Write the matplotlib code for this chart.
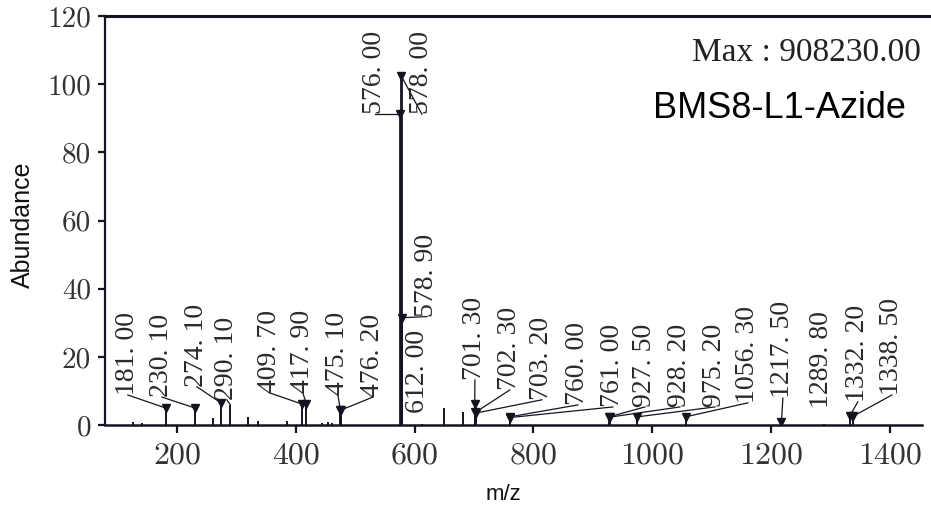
import matplotlib
matplotlib.use("Agg")
import matplotlib.pyplot as plt

# ---------------- data ----------------
peak_labels = ["181. 00", "230. 10", "274. 10", "290. 10", "409. 70", "417. 90",
               "475. 10", "476. 20", "576. 00", "578. 00", "578. 90", "612. 00",
               "701. 30", "702. 30", "703. 20", "760. 00", "761. 00", "927. 50",
               "928. 20", "975. 20", "1056. 30", "1217. 50", "1289. 80",
               "1332. 20", "1338. 50"]
peak_mz = [181.0, 230.1, 274.1, 290.1, 409.7, 417.9, 475.1, 476.2, 576.0, 578.0,
           578.9, 612.0, 701.3, 702.3, 703.2, 760.0, 761.0, 927.5, 928.2, 975.2,
           1056.3, 1217.5, 1289.8, 1332.2, 1338.5]
peak_abund = [5.0, 5.0, 6.5, 5.9, 6.2, 6.2, 4.4, 4.4, 91.2, 102.3,
              31.5, 0.4, 6.2, 3.7, 3.5, 2.4, 2.2, 2.4, 2.3, 2.4,
              2.4, 0.9, 0.3, 2.6, 2.6]

minor_mz = [126, 142, 261, 320, 337, 385, 444, 455, 461, 650, 681]
minor_abund = [1.0, 0.5, 2.2, 2.4, 1.2, 1.3, 0.6, 0.8, 0.7, 5.0, 3.8]

x_ticks = [200, 400, 600, 800, 1000, 1200, 1400]
x_tick_labels = ["200", "400", "600", "800", "1000", "1200", "1400"]
y_ticks = [0, 20, 40, 60, 80, 100, 120]
y_tick_labels = ["0", "20", "40", "60", "80", "100", "120"]

max_text = "Max : 908230.00"
sample_name = "BMS8-L1-Azide"

# ---------------- layout (label anchor positions, data units) ----------------
label_pos_x = [117.5, 174.8, 233.7, 284.1, 356.5, 412.0, 471.0, 529.9, 533.2, 612.3,
               620.7, 605.6, 701.5, 760.4, 814.3, 874.9, 933.8, 987.6, 1046.5,
               1105.4, 1160.9, 1219.9, 1285.7, 1346.1, 1403.3]
label_pos_y = [8.8, 8.2, 11.2, 7.4, 9.4, 9.4, 8.8, 8.2, 91.2, 91.2,
               31.8, 3.5, 13.2, 10.3, 7.4, 5.9, 5.3, 5.3, 5.3,
               5.3, 6.5, 7.9, 5.0, 6.8, 8.8]
unmarked = {"290. 10", "612. 00", "1289. 80"}
no_leader = {"612. 00", "1289. 80"}

ink = "#141420"

fig = plt.figure(figsize=(9.31, 5.12), dpi=100)
ax = fig.add_axes([0.1128, 0.1699, 0.8775, 0.7988])
ax.set_xlim(79, 1454)
ax.set_ylim(0, 120)

# minor peaks
ax.vlines(minor_mz, 0, minor_abund, color=ink, lw=1.4)
# labelled peaks
for mz, h in zip(peak_mz, peak_abund):
    ax.vlines(mz, 0, h, color=ink, lw=2.0 if h > 50 else 1.4)

# markers, leaders, labels
for lab, mz, h, lx, ly in zip(peak_labels, peak_mz, peak_abund, label_pos_x, label_pos_y):
    if lab not in unmarked:
        ax.plot(mz, h, marker="v", ms=6, color=ink, zorder=4)
    if lab not in no_leader:
        ax.plot([lx, mz], [ly, h], color=ink, lw=0.9, zorder=3)
    ax.text(lx, ly, lab, rotation=90, ha="center", va="bottom",
            family="Liberation Serif", fontsize=20, color="#2a2a2a")

# spines / ticks
ax.spines["right"].set_visible(False)
ax.spines["top"].set_linewidth(2.2)
ax.spines["left"].set_linewidth(1.6)
ax.spines["bottom"].set_linewidth(1.8)
for s in ax.spines.values():
    s.set_color(ink)
ax.plot([1.0, 1.02], [1.0, 1.0], transform=ax.transAxes, color=ink, lw=2.2,
        clip_on=False, solid_capstyle="butt")

ax.set_xticks(x_ticks)
ax.set_xticklabels(x_tick_labels, family="cmr10", fontsize=23, color="#333333")
ax.set_yticks(y_ticks)
ax.set_yticklabels(y_tick_labels, family="cmr10", fontsize=21, color="#333333")
ax.tick_params(axis="x", direction="out", length=6, width=1.6, pad=6, color=ink, top=False)
ax.tick_params(axis="y", direction="out", length=5, width=1.6, pad=5, color=ink, right=False)

fig.text(23 / 931, 1 - 225 / 512, "Abundance", rotation=90, ha="center", va="center",
         family="Liberation Sans", fontsize=18, color="#111111")
fig.text(503 / 931, 1 - 494 / 512, "m/z", ha="center", va="center",
         family="Liberation Sans", fontsize=16, color="#111111")

fig.text(921 / 931, 1 - 53 / 512, max_text, ha="right", va="center",
         family="Liberation Serif", fontsize=24, color="#222222")
fig.text(906 / 931, 1 - 109 / 512, sample_name, ha="right", va="center",
         family="Liberation Sans", fontsize=26, color="#000000")

fig.savefig("out.png", dpi=100)
